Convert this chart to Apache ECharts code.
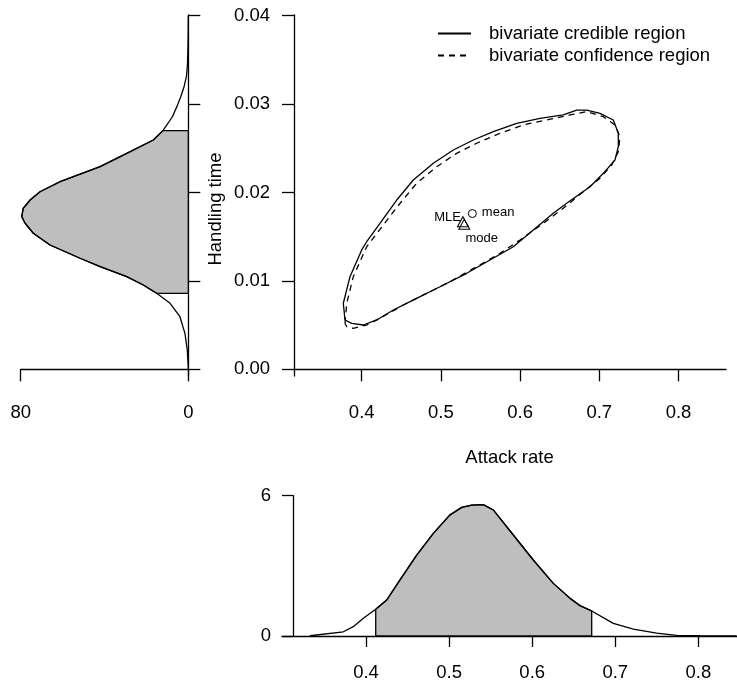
<!DOCTYPE html>
<html><head><meta charset="utf-8">
<script src="https://cdn.jsdelivr.net/npm/echarts@6/dist/echarts.min.js"></script>
<style>html,body{margin:0;padding:0;background:#fff}#c{width:737px;height:683px}</style>
</head><body><div id="c"></div>
<script>
// ---- bivariate regions (attack rate, handling time) ----
const credibleX = [0.3789,0.3768,0.3852,0.4000,0.4063,0.4231,0.4442,0.4652,0.4904,0.5157,0.5409,0.5662,0.5957,0.6251,0.6545,0.6715,0.6841,0.7009,0.7177,0.7240,0.7240,0.7198,0.7051,0.6883,0.6588,0.6419,0.6167,0.5914,0.5620,0.5326,0.4989,0.4694,0.4399,0.4189,0.4020,0.3874];
const credibleY = [0.00558,0.00747,0.01048,0.01350,0.01443,0.01652,0.01915,0.02141,0.02330,0.02481,0.02594,0.02688,0.02783,0.02839,0.02877,0.02933,0.02933,0.02896,0.02820,0.02670,0.02518,0.02368,0.02217,0.02066,0.01878,0.01765,0.01576,0.01387,0.01236,0.01086,0.00934,0.00803,0.00671,0.00558,0.00501,0.00520];
const confidenceX = [0.3789,0.3811,0.3894,0.4063,0.4273,0.4484,0.4694,0.4947,0.5199,0.5452,0.5746,0.6040,0.6336,0.6630,0.6841,0.7051,0.7198,0.7261,0.7240,0.7157,0.7009,0.6798,0.6545,0.6293,0.5999,0.5746,0.5452,0.5115,0.4821,0.4525,0.4231,0.4063,0.3894,0.3811];
const confidenceY = [0.00520,0.00747,0.01048,0.01387,0.01632,0.01878,0.02104,0.02292,0.02443,0.02557,0.02670,0.02764,0.02820,0.02877,0.02914,0.02857,0.02764,0.02631,0.02462,0.02311,0.02161,0.02009,0.01821,0.01652,0.01463,0.01312,0.01161,0.00991,0.00860,0.00727,0.00577,0.00501,0.00464,0.00482];
// ---- point estimates ----
const pointNames = ['MLE', 'mode', 'mean'];
const pointX = [0.5278, 0.5295, 0.5397];
const pointY = [0.0167, 0.0164, 0.01762];
// ---- marginal density: handling time ----
const htValues  = [0.0000,0.0004,0.00218,0.00407,0.00595,0.00747,0.0086,0.00954,0.01048,0.01161,0.01256,0.01406,0.01539,0.01652,0.01726,0.01821,0.01915,0.02009,0.02122,0.02292,0.02443,0.02594,0.0270,0.02857,0.02980,0.03084,0.0320,0.0331,0.0345,0.0365,0.038,0.040];
const htDensity = [0.0,0.05,0.5,1.6,4.0,8.7,15.1,21.5,29.4,42.1,51.7,66.0,74.0,77.9,79.5,78.8,75.5,70.8,61.2,42.1,29.4,16.7,12.1,7.6,5.3,3.6,2.0,0.9,0.4,0.15,0.05,0.02];
const htInterval = [0.0086, 0.0270];
// ---- marginal density: attack rate ----
const arValues  = [0.3326,0.3727,0.3847,0.3968,0.4117,0.4249,0.4409,0.4610,0.4810,0.5011,0.5152,0.5272,0.5412,0.5532,0.5773,0.6013,0.6254,0.6455,0.6575,0.6716,0.6976,0.7217,0.7498,0.7739,0.8019,0.846];
const arDensity = [0.01,0.18,0.40,0.76,1.14,1.54,2.40,3.46,4.39,5.18,5.50,5.60,5.62,5.39,4.32,3.25,2.25,1.61,1.30,1.07,0.54,0.29,0.12,0.03,0.01,0.0];
const arInterval = [0.4117, 0.6716];
// ---- ticks / labels ----
const mainXTicks = [0.4, 0.5, 0.6, 0.7, 0.8];
const mainYTicks = [0, 0.01, 0.02, 0.03, 0.04];
const htDensTicks = [0, 80];
const arDensTicks = [0, 6];
const legendNames = ['bivariate credible region', 'bivariate confidence region'];
const xTitle = 'Attack rate';
const yTitle = 'Handling time';

const FONT = 'Liberation Sans, Arial, sans-serif';
const FS = 18.5;
const LW = 1.3;

const closed = (xs, ys) => { const d = xs.map((x, i) => [x, ys[i]]); d.push(d[0]); return d; };

const htCurve = htValues.map((y, i) => [htDensity[i], y]);
const htPoly = [[0, htInterval[0]]].concat(htCurve.filter(p => p[1] >= htInterval[0] && p[1] <= htInterval[1])).concat([[0, htInterval[1]]]);
const arCurve = arValues.map((x, i) => [x, arDensity[i]]);
const arPoly = [[arInterval[0], 0]].concat(arCurve.filter(p => p[0] >= arInterval[0] && p[0] <= arInterval[1])).concat([[arInterval[1], 0]]);

function polySeries(xi, yi, pts) {
  return {
    type: 'custom', xAxisIndex: xi, yAxisIndex: yi, data: pts, silent: true, z: 1,
    renderItem: (params, api) => {
      if (params.dataIndex !== 0) return null;
      return { type: 'polygon', shape: { points: pts.map(p => api.coord(p)) },
               style: { fill: '#BEBEBE', stroke: '#000', lineWidth: LW } };
    }
  };
}

const axLine = { show: true, lineStyle: { color: '#000', width: LW } };
const lbl = { color: '#000', fontSize: FS, fontFamily: FONT };

const mainYMin = -0.000758, mainYMax = 0.04008;

const option = {
  animation: false,
  backgroundColor: '#fff',
  textStyle: { fontFamily: FONT },
  grid: [
    { left: 294, top: 15, width: 432, height: 361 },
    { left: 20.7, top: 15, width: 167.6, height: 361 },
    { left: 282, top: 495.7, width: 455, height: 140.3 }
  ],
  xAxis: [
    { gridIndex: 0, type: 'value', min: 0.31452, max: 0.85997, axisLine: axLine,
      axisTick: { show: true, inside: false, length: 12, customValues: mainXTicks, lineStyle: { color: '#000', width: LW } },
      axisLabel: Object.assign({ customValues: mainXTicks, margin: 27, formatter: v => v.toFixed(1) }, lbl),
      splitLine: { show: false } },
    { gridIndex: 1, type: 'value', inverse: true, min: 0, max: 80, interval: 80, axisLine: axLine,
      axisTick: { show: true, length: 12, customValues: htDensTicks, lineStyle: { color: '#000', width: LW } },
      axisLabel: Object.assign({ customValues: htDensTicks, margin: 27 }, lbl),
      splitLine: { show: false } },
    { gridIndex: 2, type: 'value', min: 0.29892, max: 0.84645, axisLine: axLine,
      axisTick: { show: true, length: 11, customValues: mainXTicks, lineStyle: { color: '#000', width: LW } },
      axisLabel: Object.assign({ customValues: mainXTicks, margin: 27, formatter: v => v.toFixed(1) }, lbl),
      splitLine: { show: false } }
  ],
  yAxis: [
    { gridIndex: 0, type: 'value', min: mainYMin, max: mainYMax, axisLine: axLine,
      axisTick: { show: true, length: 12, customValues: mainYTicks, lineStyle: { color: '#000', width: LW } },
      axisLabel: Object.assign({ customValues: mainYTicks, margin: 24, formatter: v => v.toFixed(2) }, lbl),
      splitLine: { show: false } },
    { gridIndex: 1, type: 'value', position: 'right', min: mainYMin, max: mainYMax, axisLine: axLine,
      axisTick: { show: true, length: 12, customValues: mainYTicks, lineStyle: { color: '#000', width: LW } },
      axisLabel: { show: false },
      splitLine: { show: false } },
    { gridIndex: 2, type: 'value', min: 0, max: 6, interval: 6, offset: -11, axisLine: axLine,
      axisTick: { show: true, length: 11, customValues: arDensTicks, lineStyle: { color: '#000', width: LW } },
      axisLabel: Object.assign({ customValues: arDensTicks, margin: 22 }, lbl),
      splitLine: { show: false } }
  ],
  legend: {
    orient: 'vertical', left: 437, top: 24, padding: 0, itemGap: 3,
    itemWidth: 33, itemHeight: 14,
    itemStyle: { opacity: 0 },
    textStyle: { color: '#000', fontSize: FS, fontFamily: FONT, padding: [0, 0, 0, 13] },
    data: legendNames
  },
  graphic: [
    { type: 'text', x: 509.5, y: 458, style: { text: xTitle, fill: '#000', font: FS + 'px ' + FONT, align: 'center', verticalAlign: 'middle' } },
    { type: 'text', x: 216, y: 209, rotation: Math.PI / 2, style: { text: yTitle, fill: '#000', font: FS + 'px ' + FONT, align: 'center', verticalAlign: 'middle' } }
  ],
  series: [
    { name: legendNames[0], type: 'line', xAxisIndex: 0, yAxisIndex: 0, data: closed(credibleX, credibleY),
      symbol: 'none', smooth: false, lineStyle: { color: '#000', width: LW, type: 'solid' }, itemStyle: { color: '#000' } },
    { name: legendNames[1], type: 'line', xAxisIndex: 0, yAxisIndex: 0, data: closed(confidenceX, confidenceY),
      symbol: 'none', smooth: false, lineStyle: { color: '#000', width: LW, type: [6, 5] }, itemStyle: { color: '#000' } },
    { type: 'scatter', xAxisIndex: 0, yAxisIndex: 0, silent: true, z: 5,
      data: [
        { value: [pointX[0], pointY[0]], symbol: 'triangle', symbolSize: [11, 10],
          label: { show: true, formatter: pointNames[0], position: 'left', distance: 0, offset: [4, -4] } },
        { value: [pointX[1], pointY[1]], symbol: 'triangle', symbolSize: [11, 10],
          label: { show: true, formatter: pointNames[1], position: 'bottom', distance: 0, offset: [17.5, 2] } },
        { value: [pointX[2], pointY[2]], symbol: 'circle', symbolSize: 8,
          label: { show: true, formatter: pointNames[2], position: 'right', distance: 5, offset: [0, -1] } }
      ],
      itemStyle: { color: 'rgba(0,0,0,0)', borderColor: '#000', borderWidth: 1, opacity: 1 },
      label: { color: '#000', fontSize: 13, fontFamily: FONT } },
    polySeries(1, 1, htPoly),
    { type: 'line', xAxisIndex: 1, yAxisIndex: 1, data: htCurve, symbol: 'none', z: 3,
      lineStyle: { color: '#000', width: LW } },
    polySeries(2, 2, arPoly),
    { type: 'line', xAxisIndex: 2, yAxisIndex: 2, data: arCurve, symbol: 'none', z: 3,
      lineStyle: { color: '#000', width: LW } }
  ]
};

const chart = echarts.init(document.getElementById('c'), null, { renderer: 'canvas' });
chart.setOption(option);
</script>
</body></html>
